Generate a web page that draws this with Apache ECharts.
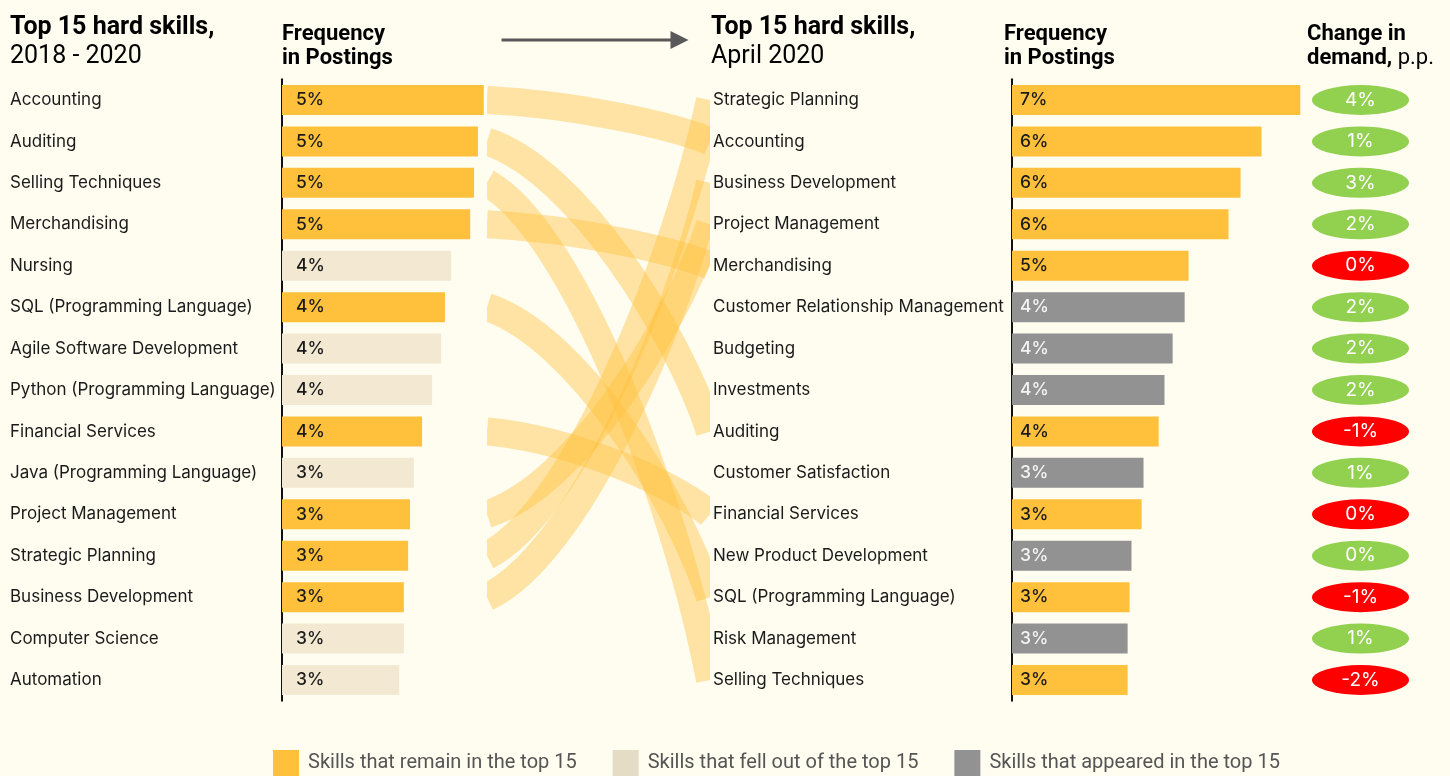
<!DOCTYPE html>
<html lang="en">
<head>
    <meta charset="UTF-8">
    <title>Top 15 hard skills</title>
    <style>
        html, body { margin: 0; padding: 0; background: #FFFCF0; }
        div#container { width: 1450px; height: 776px; }
    </style>
</head>
<body>
    <div id="container"></div>
    <script src="https://cdn.jsdelivr.net/npm/echarts@6/dist/echarts.min.js"></script>
    <script>
        // skills 2018 - 2020, frequency in postings (%)
        var leftSkills = ['Accounting', 'Auditing', 'Selling Techniques', 'Merchandising', 'Nursing',
            'SQL (Programming Language)', 'Agile Software Development', 'Python (Programming Language)',
            'Financial Services', 'Java (Programming Language)', 'Project Management', 'Strategic Planning',
            'Business Development', 'Computer Science', 'Automation'];
        var leftValues = [5.2, 5.05, 4.95, 4.85, 4.36, 4.2, 4.1, 3.87, 3.61, 3.4, 3.3, 3.25, 3.14, 3.14, 3.02];

        // skills April 2020
        var rightSkills = ['Strategic Planning', 'Accounting', 'Business Development', 'Project Management',
            'Merchandising', 'Customer Relationship Management', 'Budgeting', 'Investments', 'Auditing',
            'Customer Satisfaction', 'Financial Services', 'New Product Development',
            'SQL (Programming Language)', 'Risk Management', 'Selling Techniques'];
        var rightValues = [7.43, 6.43, 5.89, 5.58, 4.55, 4.45, 4.14, 3.93, 3.78, 3.39, 3.34, 3.08, 3.03, 2.98, 2.98];

        // change in demand, p.p.
        var changeValues = [4.18, 1.23, 2.75, 2.28, -0.3, 2.1, 1.9, 1.8, -1.27, 1.2, -0.27, 0.3, -1.17, 0.9, -1.97];

        var legendNames = ['Skills that remain in the top 15', 'Skills that fell out of the top 15', 'Skills that appeared in the top 15'];

        var colRemain = '#FFC13B';
        var colFell = '#F3E9D2';
        var colNew = '#929292';
        var font = 'Inter';
        var headFont = 'Roboto';

        var leftRemain = leftValues.map(function (v, i) {
            return rightSkills.indexOf(leftSkills[i]) >= 0 ? v : '-';
        });
        var leftFell = leftValues.map(function (v, i) {
            return rightSkills.indexOf(leftSkills[i]) >= 0 ? '-' : v;
        });
        var rightRemain = rightValues.map(function (v, i) {
            return leftSkills.indexOf(rightSkills[i]) >= 0 ? v : '-';
        });
        var rightNew = rightValues.map(function (v, i) {
            return leftSkills.indexOf(rightSkills[i]) >= 0 ? '-' : v;
        });
        // ribbons: [row on the left, row on the right]
        var links = [];
        leftSkills.forEach(function (s, i) {
            var j = rightSkills.indexOf(s);
            if (j >= 0) links.push([i, j]);
        });

        var gTop = 79.3, gHeight = 621.4;

        function pct(p) {
            return Math.round(p.value) + '%';
        }
        function barLabel(dist, color) {
            return {
                show: true, position: 'insideLeft', distance: dist, formatter: pct,
                fontFamily: font, fontSize: 17.5, fontWeight: 500, color: color
            };
        }
        function catAxis(grid, data, show, margin) {
            return {
                type: 'category', gridIndex: grid, data: data, inverse: true, show: show,
                axisLine: { show: true, lineStyle: { color: '#111', width: 2 } },
                axisTick: { show: false },
                axisLabel: {
                    align: 'left', margin: margin, padding: [0, 0, 4, 0],
                    fontFamily: font, fontSize: 17, color: '#1a1a1a'
                }
            };
        }
        function title(left, top, text, rich) {
            return { left: left, top: top, padding: 0, text: text, textStyle: { rich: rich } };
        }

        var headRich = {
            a: { fontFamily: headFont, fontWeight: 'bold', fontSize: 25, color: '#000', lineHeight: 29 },
            b: { fontFamily: headFont, fontWeight: 'normal', fontSize: 25, color: '#000', lineHeight: 29 }
        };
        var subRich = {
            a: { fontFamily: headFont, fontWeight: 'bold', fontSize: 22, color: '#000', lineHeight: 24 },
            b: { fontFamily: headFont, fontWeight: 'normal', fontSize: 22, color: '#000', lineHeight: 24 }
        };

        var ele = document.getElementById('container');
        var chart = echarts.init(ele);
        var options = {
            backgroundColor: '#FFFCF0',
            animation: false,
            title: [
                title(10, 13, '{a|Top 15 hard skills,}\n{b|2018 - 2020}', headRich),
                title(282, 22, '{a|Frequency}\n{a|in Postings}', subRich),
                title(711, 13, '{a|Top 15 hard skills,}\n{b|April 2020}', headRich),
                title(1004, 22, '{a|Frequency}\n{a|in Postings}', subRich),
                title(1307, 22, '{a|Change in}\n{a|demand,}{b| p.p.}', subRich)
            ],
            legend: {
                left: 273, top: 750, padding: 0, itemWidth: 26, itemHeight: 26, itemGap: 36, icon: 'rect',
                selectedMode: false,
                textStyle: { fontFamily: headFont, fontSize: 20, color: '#555', padding: [0, 0, 0, 4] },
                data: [
                    { name: legendNames[0] },
                    { name: legendNames[1], itemStyle: { color: '#E4DCC4' } },
                    { name: legendNames[2] }
                ]
            },
            grid: [
                { left: 282, top: gTop, width: 310.4, height: gHeight },
                { left: 487, top: gTop, width: 223, height: gHeight },
                { left: 1012, top: gTop, width: 310.4, height: gHeight },
                { left: 1312, top: gTop, width: 97, height: gHeight }
            ],
            xAxis: [
                { type: 'value', gridIndex: 0, min: 0, max: 8, show: false },
                { type: 'value', gridIndex: 1, min: 0, max: 1, show: false },
                { type: 'value', gridIndex: 2, min: 0, max: 8, show: false },
                { type: 'category', gridIndex: 3, data: ['change'], show: false }
            ],
            yAxis: [
                catAxis(0, leftSkills, true, 272),
                catAxis(1, leftSkills, false, 0),
                catAxis(2, rightSkills, true, 299),
                catAxis(3, rightSkills, false, 0)
            ],
            graphic: [
                {
                    type: 'group', left: 499, top: 31,
                    children: [
                        { type: 'line', shape: { x1: 0, y1: 9, x2: 172, y2: 9 }, style: { stroke: '#595959', lineWidth: 3 } },
                        { type: 'polygon', shape: { points: [[169, 0], [187, 9], [169, 18]] }, style: { fill: '#595959' } }
                    ]
                }
            ],
            series: [
                {
                    name: legendNames[0], type: 'bar', xAxisIndex: 0, yAxisIndex: 0, data: leftRemain,
                    barWidth: 30, barGap: '-100%', itemStyle: { color: colRemain }, label: barLabel(14, '#1a1a1a')
                },
                {
                    name: legendNames[1], type: 'bar', xAxisIndex: 0, yAxisIndex: 0, data: leftFell,
                    barWidth: 30, barGap: '-100%', itemStyle: { color: colFell }, label: barLabel(14, '#1a1a1a')
                },
                {
                    name: legendNames[0], type: 'bar', xAxisIndex: 2, yAxisIndex: 2, data: rightRemain,
                    barWidth: 30, barGap: '-100%', itemStyle: { color: colRemain }, label: barLabel(8, '#1a1a1a')
                },
                {
                    name: legendNames[2], type: 'bar', xAxisIndex: 2, yAxisIndex: 2, data: rightNew,
                    barWidth: 30, barGap: '-100%', itemStyle: { color: colNew }, label: barLabel(8, '#f4f4f4')
                },
                {
                    type: 'custom', xAxisIndex: 1, yAxisIndex: 1, data: links, clip: true, silent: true,
                    renderItem: function (params, api) {
                        var p0 = api.coord([0, api.value(0)]);
                        var p3 = api.coord([1, api.value(1)]);
                        var dx = p3[0] - p0[0], dy = p3[1] - p0[1];
                        return {
                            type: 'bezierCurve',
                            shape: {
                                x1: p0[0], y1: p0[1], x2: p3[0], y2: p3[1],
                                cpx1: p0[0] + 0.4 * dx, cpy1: p0[1] + 0.1 * dy,
                                cpx2: p3[0] - 0.15 * dx, cpy2: p3[1] - 0.35 * dy
                            },
                            style: { stroke: 'rgba(255,193,59,0.42)', lineWidth: 28, fill: null, lineCap: 'butt' }
                        };
                    }
                },
                {
                    type: 'scatter', xAxisIndex: 3, yAxisIndex: 3, symbol: 'circle', symbolSize: [97, 30],
                    data: changeValues.map(function (v, i) {
                        return { value: [0, i, v], itemStyle: { color: v < 0 ? '#FF0000' : '#92D050', opacity: 1 } };
                    }),
                    label: {
                        show: true, position: 'inside', fontFamily: font, fontSize: 19, color: '#fff',
                        formatter: function (p) { return Math.round(p.value[2]) + '%'; }
                    }
                }
            ]
        };
        chart.setOption(options);
    </script>
</body>
</html>
